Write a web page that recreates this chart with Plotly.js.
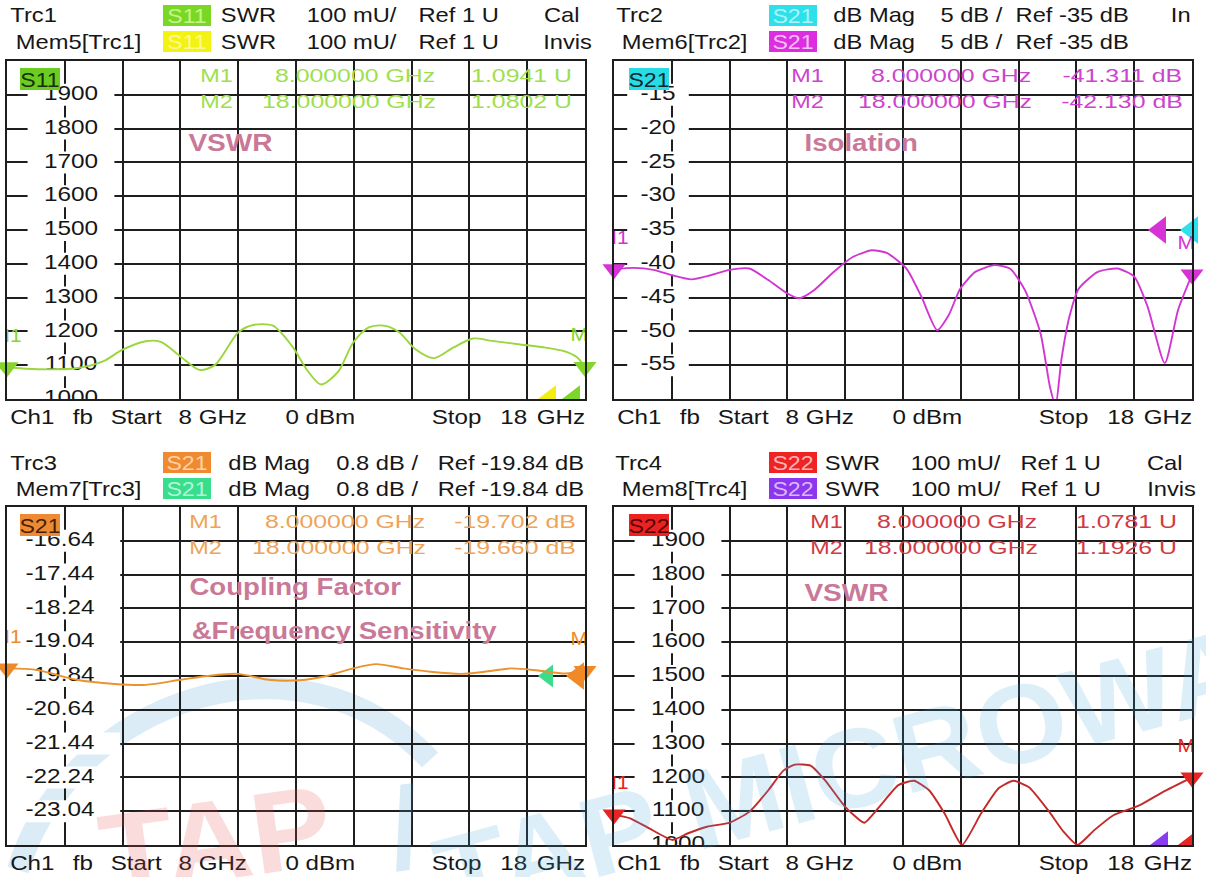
<!DOCTYPE html>
<html><head><meta charset="utf-8">
<script src="https://cdn.plot.ly/plotly-3.0.1.min.js"></script>
<style>html,body{margin:0;padding:0;background:#fff}#chart{width:1206px;height:877px}</style>
</head><body><div id="chart"></div>
<script>
// ---------------- data ----------------
const freqS11 = [8.0,8.53,9.2,9.66,10.0,10.4,10.66,11.0,11.33,11.6,12.0,12.26,12.6,12.93,13.19,13.43,13.73,13.99,14.26,14.52,14.79,15.06,15.39,15.72,16.06,16.39,16.85,17.32,17.65,17.85,18.0];
const swrS11  = [1.094,1.088,1.091,1.111,1.146,1.171,1.169,1.126,1.086,1.101,1.197,1.219,1.217,1.157,1.086,1.043,1.081,1.167,1.212,1.217,1.197,1.148,1.121,1.152,1.179,1.172,1.162,1.152,1.141,1.125,1.095];

const freqIso = [8.0,8.35,8.68,9.01,9.34,9.67,10.0,10.34,10.67,11.0,11.2,11.46,11.8,12.13,12.46,12.72,13.06,13.32,13.59,13.79,13.99,14.25,14.58,14.85,15.11,15.38,15.54,15.64,15.74,15.88,16.04,16.37,16.71,17.0,17.23,17.53,17.76,18.0];
const isoS21  = [-40.8,-40.6,-40.9,-41.7,-42.3,-41.7,-40.9,-40.7,-42.4,-44.4,-45.1,-43.9,-41.2,-39.0,-38.0,-38.4,-40.7,-44.9,-49.8,-47.6,-43.7,-41.2,-40.2,-40.7,-43.9,-50.3,-58.1,-61.0,-54.2,-47.8,-43.7,-41.2,-40.7,-41.9,-46.3,-54.7,-46.8,-41.6];

const freqCpl = [8.0,8.53,9.2,9.86,10.4,11.0,11.46,11.99,12.53,13.06,13.53,13.99,14.39,14.86,15.33,15.86,16.26,16.72,17.19,17.66,18.0];
const cplS21  = [-19.66,-19.70,-19.93,-20.03,-20.05,-19.93,-19.84,-19.79,-19.93,-19.94,-19.84,-19.66,-19.56,-19.66,-19.74,-19.79,-19.74,-19.66,-19.71,-19.78,-19.72];

const freqS22 = [8.0,8.28,8.61,9.01,9.27,9.61,10.0,10.34,10.67,10.93,11.13,11.4,11.66,12.0,12.33,12.59,12.92,13.19,13.45,13.72,14.02,14.35,14.65,14.91,15.18,15.51,15.78,16.02,16.31,16.64,17.1,17.5,18.0];
const swrS22  = [1.09,1.079,1.049,1.015,1.034,1.054,1.066,1.098,1.162,1.22,1.238,1.235,1.19,1.113,1.066,1.113,1.177,1.19,1.162,1.093,1.0,1.093,1.167,1.19,1.171,1.103,1.039,1.0,1.044,1.088,1.118,1.157,1.2];

// tick labels
const swrTicks = [1.0,1.1,1.2,1.3,1.4,1.5,1.6,1.7,1.8,1.9];
const swrTickText = ['1000','1100','1200','1300','1400','1500','1600','1700','1800','1900'];
const isoTicks = [-55,-50,-45,-40,-35,-30,-25,-20,-15];
const isoTickText = ['-55','-50','-45','-40','-35','-30','-25','-20','-15'];
const cplTicks = [-23.04,-22.24,-21.44,-20.64,-19.84,-19.04,-18.24,-17.44,-16.64];
const cplTickText = ['-23.04','-22.24','-21.44','-20.64','-19.84','-19.04','-18.24','-17.44','-16.64'];
const freqTicks = [8,9,10,11,12,13,14,15,16,17,18];

// marker readouts
const markerNames = ['M1','M2'];
const markerFreqText = ['8.000000 GHz','18.000000 GHz'];
const readS11 = ['1.0941 U','1.0802 U'];
const readIso = ['-41.311 dB','-42.130 dB'];
const readCpl = ['-19.702 dB','-19.660 dB'];
const readS22 = ['1.0781 U','1.1926 U'];

// ---------------- layout helpers ----------------
const W = 1206, H = 877;
const FONT = '"Liberation Sans", Arial, sans-serif';
const GRID = '#1e1e1e';
const panels = [
  {x0:7,   x1:585,  y0:61,  y1:399},
  {x0:614, x1:1192, y0:61,  y1:399},
  {x0:7,   x1:585,  y0:507, y1:845},
  {x0:614, x1:1192, y0:507, y1:845}
];
function xAxis(p){
  return {domain:[p.x0/W, p.x1/W], range:[8,18], tickvals:freqTicks, showticklabels:false, ticks:'',
    showgrid:true, gridcolor:GRID, gridwidth:2, showline:true, mirror:true, linecolor:GRID, linewidth:2,
    zeroline:false, fixedrange:true};
}
function yAxis(p, range, dtick, tick0){
  return {domain:[1-p.y1/H, 1-p.y0/H], range:range, tick0:tick0, dtick:dtick, tickmode:'linear', showticklabels:false, ticks:'',
    showgrid:true, gridcolor:GRID, gridwidth:2, showline:true, mirror:true, linecolor:GRID, linewidth:2,
    zeroline:false, fixedrange:true};
}
const pxToGHz = (p, px) => 8 + (px - p.x0) / ((p.x1 - p.x0) / 10);

const anns = [], scales = [];
function txt(cx, cy, s, o){
  o = o || {};
  const a = {xref:'paper', yref:'paper', x:cx/W, y:1-cy/H, xanchor:'center', yanchor:'middle', text:s, showarrow:false,
    font:{family:FONT, size:o.size||21, color:o.color||'#161616', weight:o.weight||'normal'}, borderpad:0, borderwidth:0,
    textangle:o.angle||0};
  if (o.bg) { a.bgcolor = o.bg; a.width = o.w; a.height = o.h; }
  anns.push(a); scales.push(o.sx===undefined ? 1.13 : o.sx);
}

const traces = [];
function tickLabels(xa, ya, vals, texts, xpos, wbox){
  traces.push({type:'scatter', xaxis:xa, yaxis:ya, x:vals.map(()=>xpos), y:vals, text:texts,
    mode:'markers+text', textposition:'middle center',
    marker:{symbol:'line-ew', size:wbox, color:'#fff', line:{width:22, color:'#fff'}},
    textfont:{family:FONT, size:21, color:'#161616'}, cliponaxis:true, hoverinfo:'skip'});
}
function dataLine(xa, ya, x, y, color, smooth){
  traces.push({type:'scatter', xaxis:xa, yaxis:ya, x:x, y:y, mode:'lines',
    line:{color:color, width:1.9, shape:'spline', smoothing:smooth}, cliponaxis:true, hoverinfo:'skip'});
}
function markerPair(xa, ya, x, y, color){
  const mx = [x[0], x[x.length-1]], my = [y[0], y[y.length-1]];
  traces.push({type:'scatter', xaxis:xa, yaxis:ya, x:mx, y:my, mode:'markers',
    marker:{symbol:'triangle-down', size:20, color:color}, cliponaxis:false, hoverinfo:'skip'});
  traces.push({type:'scatter', xaxis:xa, yaxis:ya, x:mx, y:my, mode:'markers+text', text:markerNames, textposition:'top center',
    marker:{size:32, opacity:0}, textfont:{family:FONT, size:18, color:color}, cliponaxis:true, hoverinfo:'skip'});
}
function refTri(xa, ya, x, y, colors, size, clip){
  traces.push({type:'scatter', xaxis:xa, yaxis:ya, x:x, y:y, mode:'markers',
    marker:{symbol:'triangle-left', size:size, color:colors}, cliponaxis:clip, hoverinfo:'skip'});
}

// ---------------- traces ----------------
const P = panels;
tickLabels('x','y', swrTicks, swrTickText, pxToGHz(P[0],71), 62);
tickLabels('x2','y2', isoTicks, isoTickText, pxToGHz(P[1],658), 44);
tickLabels('x3','y3', cplTicks, cplTickText, pxToGHz(P[2],60), 86);
tickLabels('x4','y4', swrTicks, swrTickText, pxToGHz(P[3],678), 62);

refTri('x','y', [pxToGHz(P[0],550), pxToGHz(P[0],574)], [1.0,1.0], ['#f2ee10','#7ed62a'], 24, true);
refTri('x2','y2', [pxToGHz(P[1],1160), pxToGHz(P[1],1192)], [-35,-35], ['#d633d6','#2ee0ea'], 24, false);
refTri('x3','y3', [pxToGHz(P[2],548)], [-19.84], ['#3ddc8a'], 20, false);
refTri('x4','y4', [pxToGHz(P[3],1162), pxToGHz(P[3],1190)], [1.0,1.0], ['#8a3cf0','#e82424'], 24, true);

dataLine('x','y', freqS11, swrS11, '#9ad63c', 0.8);
dataLine('x2','y2', freqIso, isoS21, '#d235d2', 0.6);
dataLine('x3','y3', freqCpl, cplS21, '#ec922f', 0.8);
dataLine('x4','y4', freqS22, swrS22, '#c42a2a', 0.5);

refTri('x3','y3', [pxToGHz(P[2],578)], [-19.84], ['#f08a26'], 24, false);

markerPair('x','y', freqS11, swrS11, '#86d42c');
markerPair('x2','y2', freqIso, isoS21, '#d633d6');
markerPair('x3','y3', freqCpl, cplS21, '#f08a26');
markerPair('x4','y4', freqS22, swrS22, '#e52424');

// ---------------- texts ----------------
function header(dx, dy, r1, r2){
  txt(dx+33, dy+15, r1.trc); txt(dx+78, dy+41, r2.trc);
  txt(dx+187, dy+15.5, r1.box, {bg:r1.bg, color:r1.fc, w:48, h:21, sx:1.1});
  txt(dx+187, dy+41.5, r2.box, {bg:r2.bg, color:r2.fc, w:48, h:21, sx:1.1});
  r1.parts.forEach(p => txt(dx+p[0], dy+15, p[1]));
  r2.parts.forEach(p => txt(dx+p[0], dy+41, p[1]));
}
header(0, 0,
  {trc:'Trc1', box:'S11', bg:'#7ad824', fc:'#c4f58c', parts:[[248,'SWR'],[352,'100 mU/'],[458,'Ref 1 U'],[562,'Cal']]},
  {trc:'Mem5[Trc1]', box:'S11', bg:'#f4f212', fc:'#fafa90', parts:[[248,'SWR'],[352,'100 mU/'],[458,'Ref 1 U'],[567,'Invis']]});
header(606, 0,
  {trc:'Trc2', box:'S21', bg:'#2ee0ea', fc:'#a8f6fa', parts:[[268,'dB Mag'],[365,'5 dB /'],[466,'Ref -35 dB'],[575,'In']]},
  {trc:'Mem6[Trc2]', box:'S21', bg:'#dc2ee0', fc:'#f6c0f6', parts:[[268,'dB Mag'],[365,'5 dB /'],[466,'Ref -35 dB']]});
header(0, 447,
  {trc:'Trc3', box:'S21', bg:'#f08a30', fc:'#ffd2a6', parts:[[269,'dB Mag'],[377,'0.8 dB /'],[511,'Ref -19.84 dB']]},
  {trc:'Mem7[Trc3]', box:'S21', bg:'#38de8c', fc:'#b6f6d6', parts:[[269,'dB Mag'],[377,'0.8 dB /'],[511,'Ref -19.84 dB']]});
header(606, 447,
  {trc:'Trc4', box:'S22', bg:'#ee2424', fc:'#ffb4b4', parts:[[246,'SWR'],[350,'100 mU/'],[454,'Ref 1 U'],[559,'Cal']]},
  {trc:'Mem8[Trc4]', box:'S22', bg:'#8c36ee', fc:'#d8b8ff', parts:[[246,'SWR'],[350,'100 mU/'],[454,'Ref 1 U'],[565,'Invis']]});

function footer(dx, y){
  [[32,'Ch1'],[83,'fb'],[136,'Start'],[213,'8 GHz'],[320,'0 dBm'],[456,'Stop'],[513,'18'],[561,'GHz']]
    .forEach(p => txt(dx+p[0], y, p[1], {sx:1.15}));
}
footer(0, 416); footer(607, 416); footer(0, 862); footer(607, 862);

txt(40, 79, 'S11', {bg:'#6ccc22', color:'#17300a', w:40, h:22, sx:1.1});
txt(649, 79, 'S21', {bg:'#28dce6', color:'#0a2a30', w:40, h:22, sx:1.1});
txt(40, 525, 'S21', {bg:'#ee8a34', color:'#4a1e00', w:40, h:22, sx:1.1});
txt(649, 525, 'S22', {bg:'#ea2222', color:'#5a0000', w:40, h:22, sx:1.1});

function readout(mx, fx, vx, y0, vals, color){
  [0,1].forEach(i => {
    const y = y0 + i*26;
    txt(mx, y, markerNames[i], {size:18, color:color, sx:1.3});
    txt(fx - (i? 6:0), y, markerFreqText[i], {size:18, color:color, sx:1.38});
    txt(vx, y, vals[i], {size:18, color:color, sx:1.38});
  });
}
readout(216, 355, 521, 76, readS11, '#9ee04c');
readout(808, 951, 1122, 76, readIso, '#cc44cc');
readout(205, 345, 515, 522, readCpl, '#eda458');
readout(826, 957, 1126, 522, readS22, '#d03a44');

const TCOL = '#c97997';
txt(230, 143, 'VSWR', {size:23, weight:'bold', color:TCOL, sx:1.22});
txt(861, 143, 'Isolation', {size:23, weight:'bold', color:TCOL, sx:1.2});
txt(295, 587, 'Coupling Factor', {size:23, weight:'bold', color:TCOL, sx:1.2});
txt(344, 631, '&Frequency Sensitivity', {size:23, weight:'bold', color:TCOL, sx:1.2});
txt(846, 593, 'VSWR', {size:23, weight:'bold', color:TCOL, sx:1.22});

// watermark
txt(215, 840, 'TAP', {size:115, weight:'bold', color:'rgba(236,80,80,0.2)', angle:-8, sx:1.05});
txt(405, 828, '/', {size:115, weight:'bold', color:'rgba(60,150,210,0.2)', angle:-8, sx:1});
txt(915, 752, 'TAP MICROWAVE', {size:112, weight:'bold', color:'rgba(60,160,215,0.18)', angle:-15, sx:1.05});

const pt = (px,py) => (px/W).toFixed(4)+','+(1-py/H).toFixed(4);
const shapes = [{type:'path', xref:'paper', yref:'paper', layer:'below',
  path:'M '+pt(18,870)+' C '+pt(70,700)+' '+pt(300,620)+' '+pt(430,760),
  line:{color:'rgba(90,170,215,0.22)', width:22}}];

let css = '.annotation-text, .textpoint text{transform-box:fill-box;transform-origin:center;}\n.textpoint text{transform:scaleX(1.16);}\n';
scales.forEach((s,i) => { if (s !== 1) css += '.annotation[data-index="'+i+'"] text{transform:scaleX('+s+');}\n'; });
const st = document.createElement('style'); st.textContent = css; document.head.appendChild(st);

const layout = {
  width:W, height:H, margin:{l:0,r:0,t:0,b:0}, showlegend:false,
  paper_bgcolor:'#ffffff', plot_bgcolor:'rgba(0,0,0,0)',
  xaxis:xAxis(P[0]), yaxis:yAxis(P[0],[1.0,2.0],0.1,1.0),
  xaxis2:xAxis(P[1]), yaxis2:yAxis(P[1],[-60,-10],5,-60),
  xaxis3:xAxis(P[2]), yaxis3:yAxis(P[2],[-23.84,-15.84],0.8,-23.84),
  xaxis4:xAxis(P[3]), yaxis4:yAxis(P[3],[1.0,2.0],0.1,1.0),
  annotations:anns, shapes:shapes
};
layout.xaxis2.anchor='y2'; layout.yaxis2.anchor='x2';
layout.xaxis3.anchor='y3'; layout.yaxis3.anchor='x3';
layout.xaxis4.anchor='y4'; layout.yaxis4.anchor='x4';
Plotly.newPlot('chart', traces, layout, {staticPlot:true, displayModeBar:false});
</script></body></html>
